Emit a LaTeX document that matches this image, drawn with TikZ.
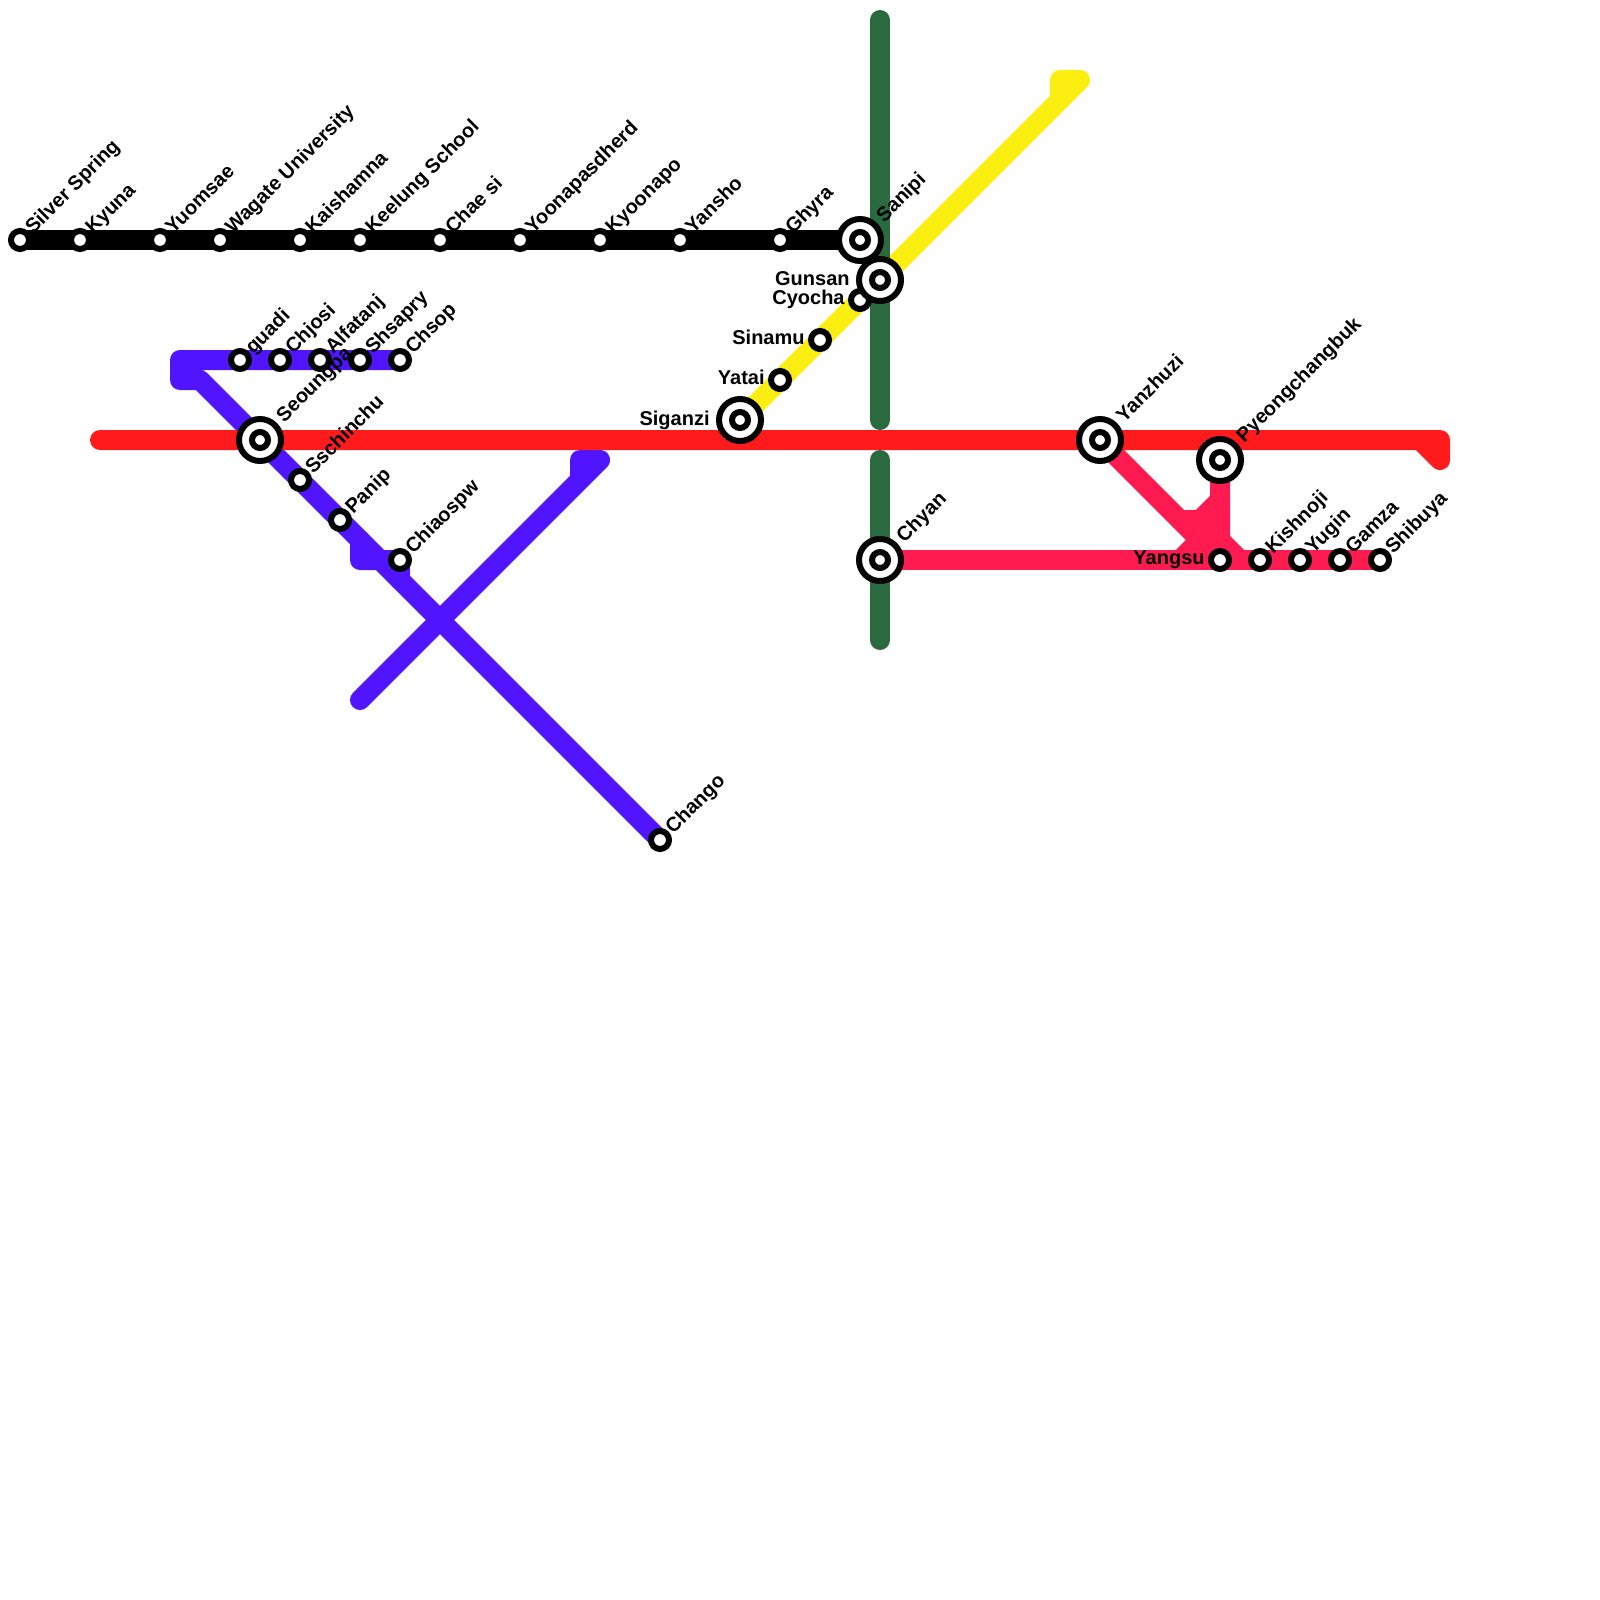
\documentclass[tikz,border=0pt]{standalone}
\usepackage{fontspec}
\newfontfamily\labfont{Liberation Sans Bold}
\usetikzlibrary{backgrounds}
\definecolor{cred}{HTML}{FF1B1B}
\definecolor{cpink}{HTML}{FF1A50}
\definecolor{cpurple}{HTML}{5014FF}
\definecolor{cyellow}{HTML}{FDEE12}
\definecolor{cgreen}{HTML}{2A6A3F}
\tikzset{
 x=0.5pt,y=-0.5pt,
 metro/.style={line width=10pt,line cap=round,line join=round},
 stn/.style={circle,draw=black,fill=white,line width=3pt,minimum size=9pt,inner sep=0pt},
 bigstn/.style={circle,draw=black,fill=white,line width=3pt,minimum size=21pt,inner sep=0pt,
   path picture={\draw[black,line width=3pt] (path picture bounding box.center) circle (4pt);}},
 lbl/.style={font=\labfont\fontsize{10}{12}\selectfont,text=black,inner sep=0pt},
 rlbl/.style={lbl,rotate=45,anchor=base west},
 llbl/.style={lbl,anchor=base east},
}
\newcommand{\sta}[4]{\node[stn] (#1) at (#2,#3) {};\node[rlbl] (#1-t) at ([shift={(13,-5)}]#1.center) {#4};}
\newcommand{\stal}[4]{\node[stn] (#1) at (#2,#3) {};\node[llbl] (#1-t) at ([shift={(-15,4.5)}]#1.center) {#4};}
\newcommand{\bsta}[4]{\node[bigstn] (#1) at (#2,#3) {};\node[rlbl] (#1-t) at ([shift={(24,-16.5)}]#1.center) {#4};}
\newcommand{\bstal}[4]{\node[bigstn] (#1) at (#2,#3) {};\node[llbl] (#1-t) at ([shift={(-30,5)}]#1.center) {#4};}
\begin{document}
\begin{tikzpicture}
\useasboundingbox (0,0) rectangle (1600,1600);
% black line
\sta{silver}{20}{240}{Silver Spring}
\sta{kyuna}{80}{240}{Kyuna}
\sta{yuomsae}{160}{240}{Yuomsae}
\sta{wagate}{220}{240}{Wagate University}
\sta{kaishamna}{300}{240}{Kaishamna}
\sta{keelung}{360}{240}{Keelung School}
\sta{chaesi}{440}{240}{Chae si}
\sta{yoona}{520}{240}{Yoonapasdherd}
\sta{kyoonapo}{600}{240}{Kyoonapo}
\sta{yansho}{680}{240}{Yansho}
\sta{ghyra}{780}{240}{Ghyra}
\bsta{sanipi}{860}{240}{Sanipi}
% purple
\sta{guadi}{240}{360}{guadi}
\sta{chjosi}{280}{360}{Chjosi}
\sta{alfatanj}{320}{360}{Alfatanj}
\sta{shsapry}{360}{360}{Shsapry}
\sta{chsop}{400}{360}{Chsop}
\bsta{seoungpa}{260}{440}{Seoungpa}
\sta{sschinchu}{300}{480}{Sschinchu}
\sta{panip}{340}{520}{Panip}
\sta{chiaospw}{400}{560}{Chiaospw}
\sta{chango}{660}{840}{Chango}
% yellow
\bstal{siganzi}{740}{420}{Siganzi}
\stal{yatai}{780}{380}{Yatai}
\stal{sinamu}{820}{340}{Sinamu}
\stal{cyocha}{860}{300}{Cyocha}
\bstal{gunsan}{880}{280}{Gunsan}
% red and pink
\bsta{yanzhuzi}{1100}{440}{Yanzhuzi}
\bsta{pyeong}{1220}{460}{Pyeongchangbuk}
\bsta{chyan}{880}{560}{Chyan}
\stal{yangsu}{1220}{560}{Yangsu}
\sta{kishnoji}{1260}{560}{Kishnoji}
\sta{yugin}{1300}{560}{Yugin}
\sta{gamza}{1340}{560}{Gamza}
\sta{shibuya}{1380}{560}{Shibuya}
\begin{pgfonlayer}{background}
% waypoints
\coordinate (ye1) at (1080,80); \coordinate (ye2) at (1060,80); \coordinate (ye3) at (1060,100);
\coordinate (pa) at (200,380); \coordinate (pb) at (180,380); \coordinate (pc) at (180,360);
\coordinate (pd) at (360,540); \coordinate (pe) at (360,560); \coordinate (pf) at (400,580);
\coordinate (qa) at (360,700); \coordinate (qb) at (600,460); \coordinate (qc) at (580,460); \coordinate (qd) at (580,480);
\coordinate (ra) at (100,440); \coordinate (rb) at (1440,440); \coordinate (rc) at (1440,460); \coordinate (rd) at (1420,440);
\coordinate (ga) at (880,20); \coordinate (gb) at (880,420); \coordinate (gc) at (880,460); \coordinate (gd) at (880,640);
\coordinate (ka) at (1180,520); \coordinate (kb) at (1200,520); \coordinate (kc) at (1220,500);
\coordinate (kd) at (1220,540); \coordinate (ke) at (1240,560); \coordinate (kf) at (1180,560); \coordinate (kg) at (1220,520);
% lines
\draw[metro,cyellow] (siganzi.center) -- (yatai.center) -- (sinamu.center) -- (cyocha.center) -- (gunsan.center) -- (ye1) -- (ye2) -- (ye3);
\draw[metro,cgreen] (ga) -- (gb);
\draw[metro,cgreen] (gc) -- (chyan.center) -- (gd);
\draw[metro,cpurple] (chango.center) -- (pf) -- (chiaospw.center) -- (pe) -- (pd) -- (panip.center) -- (sschinchu.center) -- (seoungpa.center) -- (pa) -- (pb) -- (pc) -- (guadi.center) -- (chjosi.center) -- (alfatanj.center) -- (shsapry.center) -- (chsop.center);
\draw[metro,cpurple] (pd) -- (pf);
\draw[metro,cpurple] (qa) -- (qb) -- (qc) -- (qd);
\draw[metro,cpink] (chyan.center) -- (kf) -- (yangsu.center) -- (kishnoji.center) -- (yugin.center) -- (gamza.center) -- (shibuya.center);
\draw[metro,cpink] (yanzhuzi.center) -- (ka) -- (yangsu.center);
\draw[metro,cpink] (ka) -- (kb) -- (kc) -- (pyeong.center);
\draw[metro,cpink] (kc) -- (kd) -- (ke);
\draw[metro,cpink] (kg) -- (kf);
\draw[metro,cred] (ra) -- (seoungpa.center |- ra) -- (yanzhuzi.center) -- (rb) -- (rc) -- (rd);
\draw[metro,black] (silver.center) -- (sanipi.center);
\end{pgfonlayer}
\end{tikzpicture}
\end{document}
